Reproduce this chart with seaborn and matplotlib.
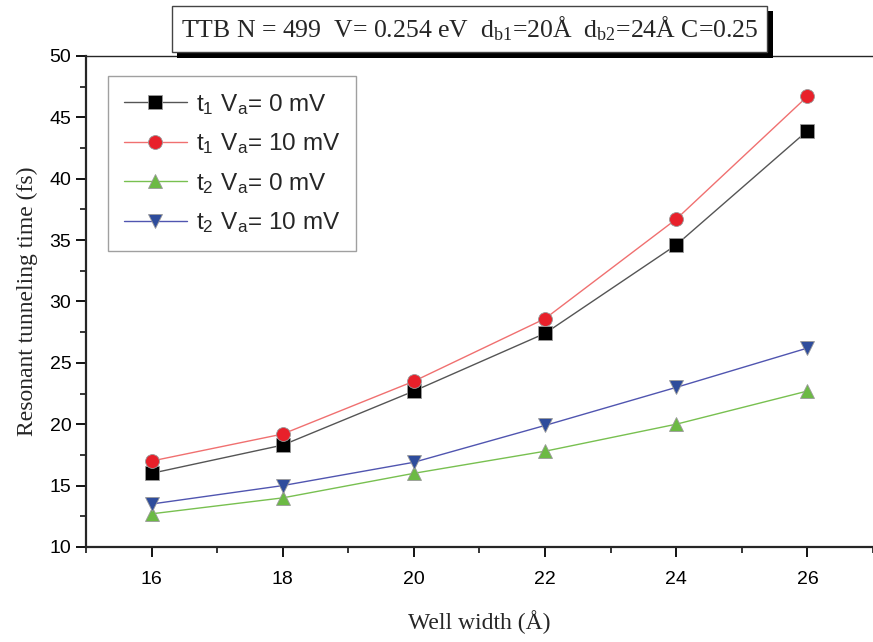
import pandas as pd
import seaborn as sns
import matplotlib.pyplot as plt
import matplotlib.patheffects as pe
from matplotlib.ticker import MultipleLocator

# values
well_width = [16, 18, 20, 22, 24, 26]
t1_0mv = [16.0, 18.3, 22.7, 27.4, 34.6, 43.9]
t1_10mv = [17.0, 19.2, 23.5, 28.6, 36.7, 46.7]
t2_0mv = [12.7, 14.0, 16.0, 17.8, 20.0, 22.7]
t2_10mv = [13.5, 15.0, 16.9, 19.9, 23.0, 26.2]

labels = [r'$\mathregular{t_1\ V_a}$= 0 mV', r'$\mathregular{t_1\ V_a}$= 10 mV',
          r'$\mathregular{t_2\ V_a}$= 0 mV', r'$\mathregular{t_2\ V_a}$= 10 mV']

sns.set_style('ticks')
plt.rcParams['font.family'] = ['Liberation Sans', 'DejaVu Sans']

fig = plt.figure(figsize=(8.73, 6.42), dpi=100)
ax = fig.add_axes([0.0985, 0.148, 0.9015, 0.765])

series = [t1_0mv, t1_10mv, t2_0mv, t2_10mv]
line_colors = ['#555555', '#f07070', '#78c050', '#5055b0']
face_colors = ['black', '#e8202a', '#6cba44', '#2e4c9c']
markers = ['s', 'o', '^', 'v']

for vals, lab, lc, fc, mk in zip(series, labels, line_colors, face_colors, markers):
    df = pd.DataFrame({'w': well_width, 't': vals})
    sns.lineplot(data=df, x='w', y='t', ax=ax, color=lc, marker=mk,
                 markerfacecolor=fc, markeredgecolor='#9a9a9a', markeredgewidth=0.6,
                 markersize=10, linewidth=1, label=lab)

ax.set_xlim(15, 27)
ax.set_ylim(10, 50)
ax.xaxis.set_major_locator(MultipleLocator(2))
ax.xaxis.set_minor_locator(MultipleLocator(1))
ax.yaxis.set_major_locator(MultipleLocator(5))
ax.yaxis.set_minor_locator(MultipleLocator(2.5))
ax.tick_params(which='major', direction='out', length=7, width=1.3, labelsize=14, colors='black')
ax.tick_params(which='minor', direction='out', length=4, width=1.3)
for lbl in ax.get_xticklabels():
    lbl.set_family(['Liberation Sans Narrow', 'Liberation Sans'])
ax.tick_params(axis='x', pad=10)

for side in ['left', 'bottom']:
    ax.spines[side].set_linewidth(1.6)
ax.spines['top'].set_linewidth(1.0)
ax.spines['right'].set_visible(False)

ax.set_xlabel('Well width (Å)', family='Liberation Serif', fontsize=17, labelpad=16)
ax.set_ylabel('Resonant tunneling time (fs)', family='Liberation Serif', fontsize=17, labelpad=8)

leg = ax.legend(loc='upper left', bbox_to_anchor=(108 / 873, 1 - 76 / 642),
                bbox_transform=fig.transFigure, fontsize=17.5, frameon=True, fancybox=False,
                handlelength=2.6, handletextpad=0.35, labelspacing=0.6, borderpad=0.65,
                borderaxespad=0)
leg.get_frame().set_edgecolor('#888888')
leg.get_frame().set_linewidth(1.0)

title = fig.text(0.538, 0.955,
                 r'TTB N = 499  V= 0.254 eV  $\mathregular{d_{b1}}$=20Å  $\mathregular{d_{b2}}$=24Å C=0.25',
                 family='Liberation Serif', fontsize=18.5, ha='center', va='center',
                 bbox=dict(boxstyle='square,pad=0.35', fc='white', ec='#444444', lw=1))
title.get_bbox_patch().set_path_effects(
    [pe.withSimplePatchShadow(offset=(4, -4), shadow_rgbFace='black', alpha=1.0)])

fig.savefig('out.png', dpi=100)
